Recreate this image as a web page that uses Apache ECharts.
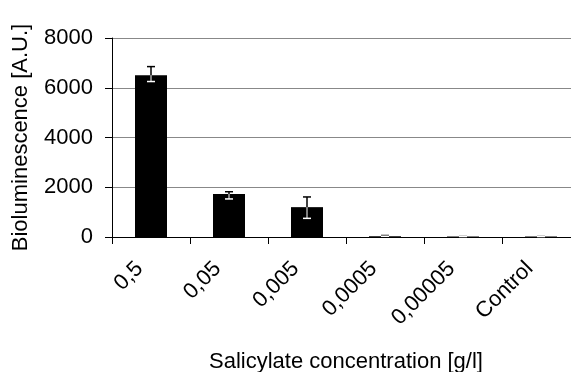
<!DOCTYPE html>
<html>
<head>
<meta charset="utf-8">
<script src="https://cdn.jsdelivr.net/npm/echarts@6/dist/echarts.min.js"></script>
<style>
  html, body { margin: 0; padding: 0; background: #fff; }
  #chart { width: 571px; height: 372px; }
</style>
</head>
<body>
<div id="chart"></div>
<script>
const categories = ['0,5', '0,05', '0,005', '0,0005', '0,00005', 'Control'];
const values = [6500, 1730, 1200, 30, 20, 20];
const errHigh = [6850, 1820, 1610, 60, 20, 20];
const errLow = [6250, 1530, 750, 30, 20, 20];
const yTicks = { min: 0, max: 8000, interval: 2000 };

const FONT = 'Liberation Sans, Arial, sans-serif';

const chart = echarts.init(document.getElementById('chart'));

const errData = categories.map((c, i) => [i, errHigh[i], errLow[i], values[i]]);

const option = {
  animation: false,
  backgroundColor: '#fff',
  grid: { left: 112, right: -9, top: 38, bottom: 135, containLabel: false, outerBoundsMode: 'none' },
  xAxis: {
    type: 'category',
    data: categories,
    name: 'Salicylate concentration [g/l]',
    nameLocation: 'middle',
    nameGap: 114,
    nameTextStyle: { fontFamily: FONT, fontSize: 22, color: '#000' },
    axisLine: { lineStyle: { color: '#000', width: 1 } },
    axisTick: { show: true, length: 7, lineStyle: { color: '#000' } },
    axisLabel: {
      rotate: 45,
      interval: 0,
      margin: 17,
      padding: [0, 16, 0, 0],
      fontFamily: FONT,
      fontSize: 22,
      color: '#000'
    }
  },
  yAxis: {
    type: 'value',
    min: yTicks.min,
    max: yTicks.max,
    interval: yTicks.interval,
    name: 'Bioluminescence [A.U.]',
    nameLocation: 'middle',
    nameGap: 80,
    nameTextStyle: { fontFamily: FONT, fontSize: 22, color: '#000' },
    axisLine: { show: true, lineStyle: { color: '#000', width: 1 } },
    axisTick: { show: true, length: 7, lineStyle: { color: '#000' } },
    axisLabel: {
      margin: 19,
      fontFamily: FONT,
      fontSize: 22,
      color: '#000',
      formatter: function (v) { return String(v); }
    },
    splitLine: { show: true, lineStyle: { color: '#888', width: 1 } }
  },
  series: [
    {
      type: 'bar',
      data: values,
      barWidth: 32,
      itemStyle: { color: '#000' }
    },
    {
      type: 'custom',
      data: errData,
      z: 10,
      renderItem: function (params, api) {
        const i = api.value(0);
        const top = api.coord([i, api.value(1)]);
        const bot = api.coord([i, api.value(2)]);
        const mid = api.coord([i, api.value(3)]);
        const x = top[0];
        const w = 4;
        return {
          type: 'group',
          children: [
            { type: 'line', shape: { x1: x, y1: top[1], x2: x, y2: mid[1] }, style: { stroke: '#000', lineWidth: 1.5 } },
            { type: 'line', shape: { x1: x - w, y1: top[1], x2: x + w, y2: top[1] }, style: { stroke: '#000', lineWidth: 1.5 } },
            { type: 'line', shape: { x1: x, y1: mid[1], x2: x, y2: bot[1] }, style: { stroke: '#fff', lineWidth: 1 } },
            { type: 'line', shape: { x1: x - w, y1: bot[1], x2: x + w, y2: bot[1] }, style: { stroke: '#fff', lineWidth: 1.5 } }
          ]
        };
      }
    }
  ]
};

chart.setOption(option);
</script>
</body>
</html>
